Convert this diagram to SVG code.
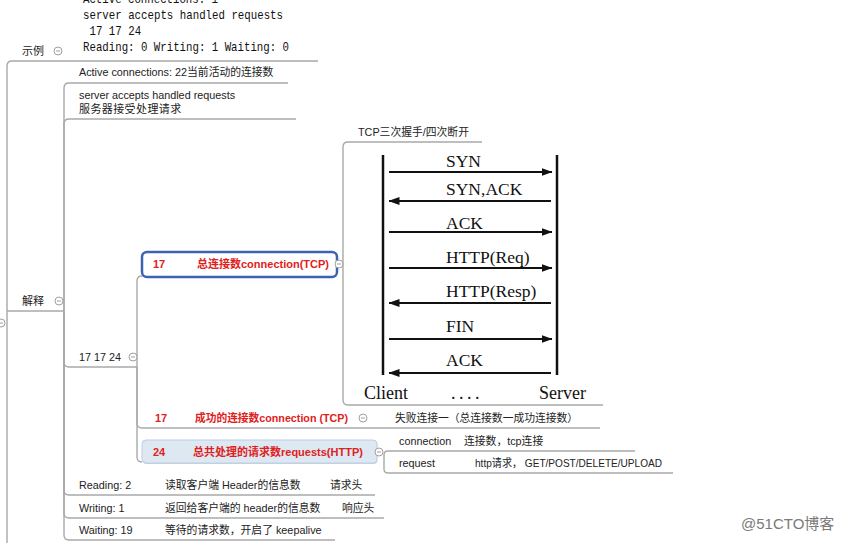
<svg xmlns="http://www.w3.org/2000/svg" width="848" height="543" viewBox="0 0 848 543">
<defs>
<style>
.t{font-family:"Liberation Sans","Noto Sans CJK SC",sans-serif;font-size:10.8px;fill:#222}
.c{font-family:"Noto Sans CJK SC",sans-serif;font-size:11px;fill:#222}
.r{font-family:"Liberation Sans","Noto Sans CJK SC",sans-serif;font-size:11px;font-weight:bold;fill:#e0211b}
.code{font-family:"Liberation Mono",monospace;font-size:13px;fill:#111}
.tcp{font-family:"Liberation Serif",serif;font-size:17.5px;fill:#111}
.tcpb{font-family:"Liberation Serif",serif;font-size:18px;fill:#111}
.ln{fill:none;stroke:#a9a9a9;stroke-width:1.4}
.seq{stroke:#111;stroke-width:2.5}
.arr{fill:none;stroke:#111;stroke-width:2}
.wm{font-family:"Liberation Sans","Noto Sans CJK SC",sans-serif;font-size:15px;fill:#7a7a7a}
</style>
<g id="tog"><circle r="4" fill="#fff" stroke="#a0a0a0" stroke-width="1"/><line x1="-2" x2="2" y1="0" y2="0" stroke="#a0a0a0" stroke-width="1"/></g>
<marker id="ah" markerWidth="11" markerHeight="8" refX="10.5" refY="4" orient="auto" markerUnits="userSpaceOnUse"><path d="M0,0 L11,4 L0,8 Z" fill="#111"/></marker>
</defs>
<rect width="848" height="543" fill="#fff"/>

<g id="connectors" class="ln">
<path d="M7,543 V66 Q7,61 12,61"/>
<path d="M64,311 V88 Q64,83 69,83"/>
<path d="M64,311 V124 Q64,119 69,119"/>
<path d="M64,311 V362 Q64,367 69,367"/>
<path d="M64,311 V490 Q64,495 69,495"/>
<path d="M64,311 V513 Q64,518 69,518"/>
<path d="M64,311 V535 Q64,540 69,540"/>
<path d="M137,367 V281 Q137,276 142,276"/>
<path d="M137,367 V423 Q137,428 142,428"/>
<path d="M137,367 V457 Q137,462 142,462"/>
<path d="M343,264 V147 Q343,142 348,142"/>
<path d="M343,264 V400 Q343,405 348,405"/>
<path d="M388,451 Q384,451 384,455 V469 Q384,473 388,473"/>
</g>

<g id="root-toggle"><use href="#tog" x="1" y="323"/></g>

<g id="node-example">
<text class="c" x="22" y="55">示例</text>
<use href="#tog" x="58" y="51"/>
<path class="ln" d="M12,61 H64"/>
</g>

<g id="node-code">
<text class="code" x="83" y="3" textLength="135" lengthAdjust="spacingAndGlyphs">Active connections: 1</text>
<text class="code" x="83" y="19" textLength="200" lengthAdjust="spacingAndGlyphs">server accepts handled requests</text>
<text class="code" x="89.5" y="35" textLength="51.6" lengthAdjust="spacingAndGlyphs">17 17 24</text>
<text class="code" x="83" y="51" textLength="206" lengthAdjust="spacingAndGlyphs">Reading: 0 Writing: 1 Waiting: 0</text>
<path class="ln" d="M64,61 H318"/>
</g>

<g id="node-explain">
<text class="c" x="22" y="305">解释</text>
<use href="#tog" x="59" y="301"/>
<path class="ln" d="M7,311 H64"/>
</g>

<g id="node-active">
<text class="t" x="79" y="76">Active connections: 22当前活动的连接数</text>
<path class="ln" d="M69,83 H288"/>
</g>

<g id="node-server">
<text class="t" x="79" y="99">server accepts handled requests</text>
<text class="c" x="79" y="113" letter-spacing="0.4">服务器接受处理请求</text>
<path class="ln" d="M69,119 H296"/>
</g>

<g id="node-171724">
<text class="t" x="79" y="361">17 17 24</text>
<use href="#tog" x="133" y="357"/>
<path class="ln" d="M69,367 H137"/>
</g>

<g id="node-total-conn">
<rect x="142" y="252" width="195" height="25" rx="5" fill="#fff" stroke="#3d62b3" stroke-width="2.5"/>
<text class="r" x="153" y="268">17</text>
<text class="r" x="197" y="268">总连接数connection(TCP)</text>
<use href="#tog" x="339" y="264"/>
</g>

<g id="node-tcp-label">
<text class="t" x="358" y="136">TCP三次握手/四次断开</text>
<path class="ln" d="M348,142 H482"/>
</g>

<g id="node-tcp-image">
<line class="seq" x1="383" y1="155" x2="383" y2="375"/>
<line class="seq" x1="557" y1="155" x2="557" y2="375"/>
<path class="arr" d="M389,172 H552" marker-end="url(#ah)"/>
<path class="arr" d="M551,201 H389" marker-end="url(#ah)"/>
<path class="arr" d="M389,232 H552" marker-end="url(#ah)"/>
<path class="arr" d="M389,268 H552" marker-end="url(#ah)"/>
<path class="arr" d="M551,303 H389" marker-end="url(#ah)"/>
<path class="arr" d="M389,339 H552" marker-end="url(#ah)"/>
<path class="arr" d="M551,373 H389" marker-end="url(#ah)"/>
<text class="tcp" x="446" y="167">SYN</text>
<text class="tcp" x="446" y="195">SYN,ACK</text>
<text class="tcp" x="446" y="229">ACK</text>
<text class="tcp" x="446" y="263">HTTP(Req)</text>
<text class="tcp" x="446" y="297">HTTP(Resp)</text>
<text class="tcp" x="446" y="332">FIN</text>
<text class="tcp" x="446" y="366">ACK</text>
<text class="tcpb" x="364" y="399">Client</text>
<text class="tcpb" x="451" y="399" letter-spacing="3.5">....</text>
<text class="tcpb" x="539" y="399">Server</text>
<path class="ln" d="M348,405 H603"/>
</g>

<g id="node-success-conn">
<text class="r" x="155" y="422">17</text>
<text class="r" x="195" y="422" textLength="153" lengthAdjust="spacingAndGlyphs">成功的连接数connection (TCP)</text>
<use href="#tog" x="363" y="418"/>
<path class="ln" d="M142,428 H380"/>
</g>

<g id="node-failed">
<text class="t" x="395" y="422" textLength="183" lengthAdjust="spacing">失败连接一（总连接数一成功连接数）</text>
<path class="ln" d="M380,428 H600"/>
</g>

<g id="node-requests">
<rect x="142.5" y="441" width="235" height="23" rx="4" fill="#c9d3dd"/>
<rect x="142" y="440" width="235" height="23" rx="4" fill="#dde8f3" stroke="#bccfe2" stroke-width="1"/>
<text class="r" x="153" y="456">24</text>
<text class="r" x="193" y="456">总共处理的请求数requests(HTTP)</text>
<use href="#tog" x="379" y="452"/>
</g>

<g id="node-connection">
<text class="t" x="399" y="445">connection</text>
<text class="t" x="464" y="445">连接数，tcp连接</text>
<path class="ln" d="M388,451 H635"/>
</g>

<g id="node-request">
<text class="t" x="399" y="467">request</text>
<text class="t" x="475" y="467" textLength="187" lengthAdjust="spacingAndGlyphs">http请求， GET/POST/DELETE/UPLOAD</text>
<path class="ln" d="M388,473 H673"/>
</g>

<g id="node-reading">
<text class="t" x="79" y="489">Reading: 2</text>
<text class="t" x="165" y="489">读取客户端 Header的信息数</text>
<text class="t" x="330" y="489">请求头</text>
<path class="ln" d="M69,495 H375"/>
</g>

<g id="node-writing">
<text class="t" x="79" y="512">Writing: 1</text>
<text class="t" x="165" y="512">返回给客户端的 header的信息数</text>
<text class="t" x="342" y="512">响应头</text>
<path class="ln" d="M69,518 H384"/>
</g>

<g id="node-waiting">
<text class="t" x="79" y="534">Waiting: 19</text>
<text class="t" x="165" y="534">等待的请求数，开启了 keepalive</text>
<path class="ln" d="M69,540 H335"/>
</g>

<text class="wm" x="741" y="529">@51CTO博客</text>
</svg>
